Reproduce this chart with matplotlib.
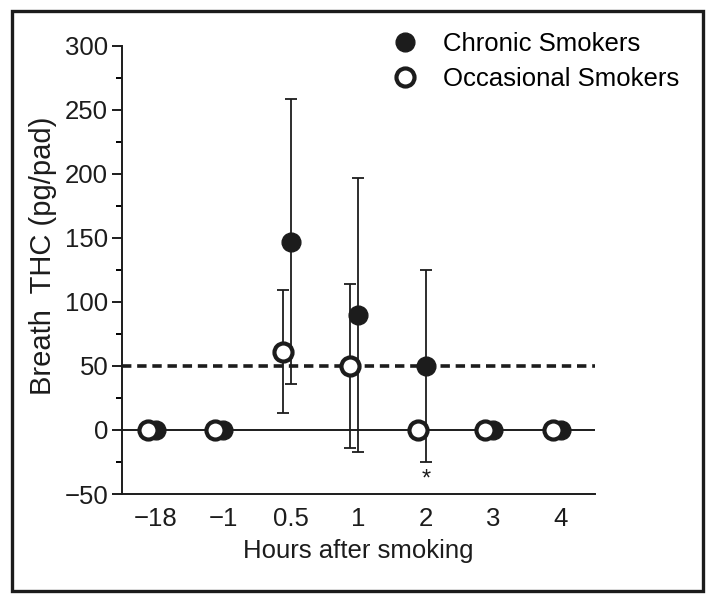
import matplotlib.pyplot as plt
from matplotlib.patches import Rectangle
from matplotlib.lines import Line2D
import numpy as np

plt.rcParams['font.family'] = ['Liberation Sans', 'DejaVu Sans']

hours = ['\u221218', '\u22121', '0.5', '1', '2', '3', '4']
chronic_mean = [0, 0, 147, 90, 50, 0, 0]
chronic_sd = [0, 0, 111, 107, 75, 0, 0]
occasional_mean = [0, 0, 61, 50, 0, 0, 0]
occasional_sd = [0, 0, 48, 64, 0, 0, 0]
cutoff = 50

ink = '#1c1c1c'
x = np.arange(len(hours))
x_occ = x - 0.12

fig = plt.figure(figsize=(7.14, 6.01), dpi=100)
ax = fig.add_axes([0.171, 0.178, 0.662, 0.746])

# frame round the whole figure
fig.patches.append(Rectangle((12 / 714, 10 / 601), 691 / 714, 580 / 601,
                             transform=fig.transFigure, fill=False,
                             edgecolor=ink, linewidth=2.4))

ax.axhline(0, color=ink, linewidth=1.4, zorder=1)
ax.axhline(cutoff, color=ink, linewidth=2.6, linestyle=(0, (2.6, 1.6)), zorder=1)

ch = np.array(chronic_sd) > 0
ax.errorbar(x[ch], np.array(chronic_mean)[ch], yerr=np.array(chronic_sd)[ch],
            fmt='none', ecolor=ink, elinewidth=1.3, capsize=4.5, capthick=1.3, zorder=2)
oc = np.array(occasional_sd) > 0
ax.errorbar(x_occ[oc], np.array(occasional_mean)[oc], yerr=np.array(occasional_sd)[oc],
            fmt='none', ecolor=ink, elinewidth=1.3, capsize=4.5, capthick=1.3, zorder=2)

ax.plot(x, chronic_mean, 'o', color=ink, markersize=13.5, zorder=3)
ax.plot(x_occ, occasional_mean, 'o', markerfacecolor='white', markeredgecolor=ink,
        markeredgewidth=3, markersize=13, zorder=4)

ax.text(x[4], -39, '*', ha='center', va='center', fontsize=17, color=ink)

ax.set_xlim(-0.5, 6.5)
ax.set_ylim(-50, 300)
ax.set_xticks(x)
ax.set_xticklabels(hours)
ax.set_yticks(np.arange(-50, 301, 50))
ax.set_yticks(np.arange(-25, 300, 50), minor=True)
ax.tick_params(axis='x', length=0, pad=9, labelsize=18.5, colors=ink)
ax.tick_params(axis='y', which='major', length=7, width=1.4, pad=3, labelsize=18.5, colors=ink)
ax.tick_params(axis='y', which='minor', length=4.5, width=1.4)

for s in ['top', 'right']:
    ax.spines[s].set_visible(False)
for s in ['left', 'bottom']:
    ax.spines[s].set_linewidth(1.4)
    ax.spines[s].set_color(ink)

ax.set_xlabel('Hours after smoking', fontsize=18.5, color=ink, labelpad=6)
ax.set_ylabel('Breath  THC (pg/pad)', fontsize=21, color=ink)
ax.yaxis.set_label_coords(-0.137, 0.531)

handles = [
    Line2D([], [], marker='o', linestyle='none', color=ink, markersize=13.5),
    Line2D([], [], marker='o', linestyle='none', markerfacecolor='white',
           markeredgecolor=ink, markeredgewidth=3, markersize=13),
]
fig.legend(handles, ['Chronic Smokers', 'Occasional Smokers'],
           loc='upper left', bbox_to_anchor=(392 / 714, 1 - 32 / 601),
           frameon=False, fontsize=18.5, handlelength=1.0, handletextpad=1.0,
           labelspacing=0.42, borderaxespad=0, borderpad=0)

fig.savefig('out.png', dpi=100)
